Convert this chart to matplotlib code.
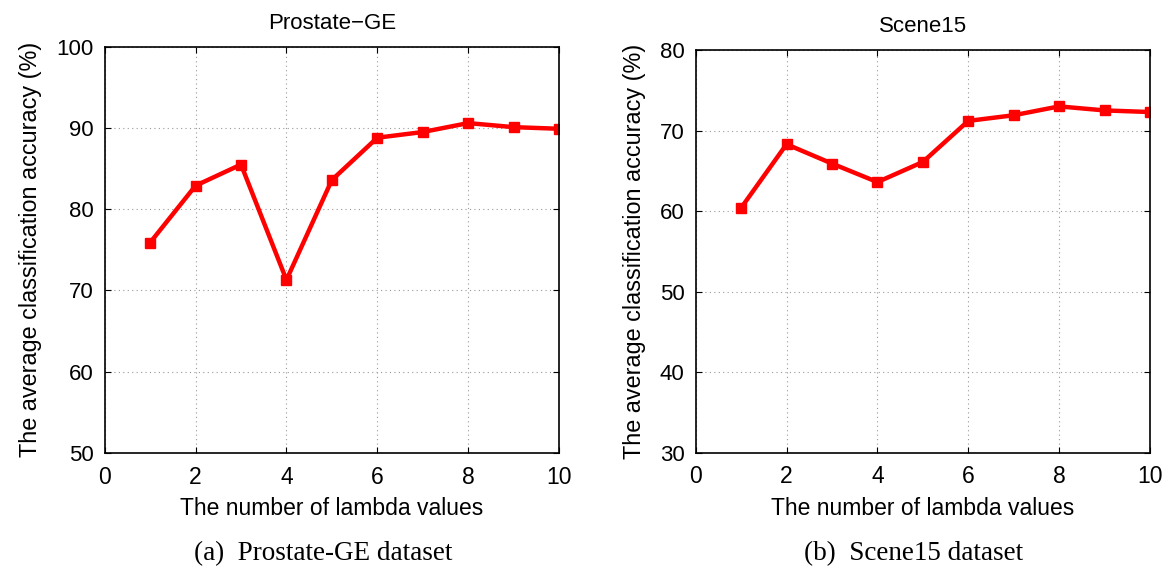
import numpy as np
import matplotlib
matplotlib.use("Agg")
import matplotlib.pyplot as plt

# valores
lambdas = [1, 2, 3, 4, 5, 6, 7, 8, 9, 10]
prostate_acc = [75.9, 82.9, 85.5, 71.3, 83.6, 88.8, 89.5, 90.6, 90.1, 89.9]
scene_acc = [60.4, 68.3, 65.9, 63.6, 66.1, 71.2, 71.9, 73.0, 72.5, 72.3]

xticks = [0, 2, 4, 6, 8, 10]
prostate_yticks = [50, 60, 70, 80, 90, 100]
scene_yticks = [30, 40, 50, 60, 70, 80]

plt.rcParams['font.family'] = ['Liberation Sans', 'DejaVu Sans']

fig = plt.figure(figsize=(11.7, 5.73), dpi=100)
ax1 = fig.add_axes([0.0895, 0.2094, 0.3883, 0.7091])
ax2 = fig.add_axes([0.5946, 0.2100, 0.3883, 0.7027])


def draw(ax, y, yticks, title):
    ax.plot(lambdas, y, color='red', linewidth=3.2, marker='s', markersize=7,
            solid_joinstyle='miter')
    ax.set_xlim(0, 10)
    ax.set_ylim(yticks[0], yticks[-1])
    ax.set_xticks(xticks)
    ax.set_yticks(yticks)
    ax.grid(True, linestyle=(0, (1, 3)), color='#999999', linewidth=0.8)
    ax.tick_params(direction='in', top=True, right=True, labelsize=16, length=4)
    ax.tick_params(axis='x', pad=9, labelsize=16.5)
    ax.tick_params(axis='y', pad=8)
    for s in ax.spines.values():
        s.set_linewidth(1.2)
    ax.set_title(title, fontsize=16, pad=13)
    ax.set_xlabel('The number of lambda values', fontsize=16.5, labelpad=6)
    ax.set_ylabel('The average classification accuracy (%)', fontsize=16.8, labelpad=10)


draw(ax1, prostate_acc, prostate_yticks, 'Prostate\u2212GE')
draw(ax2, scene_acc, scene_yticks, 'Scene15')

fig.text(0.276, 0.034, '(a)  Prostate-GE dataset', ha='center', va='center',
         fontsize=19.5, family='Liberation Serif')
fig.text(0.781, 0.034, '(b)  Scene15 dataset', ha='center', va='center',
         fontsize=19.5, family='Liberation Serif')

fig.savefig('out.png', dpi=100)
